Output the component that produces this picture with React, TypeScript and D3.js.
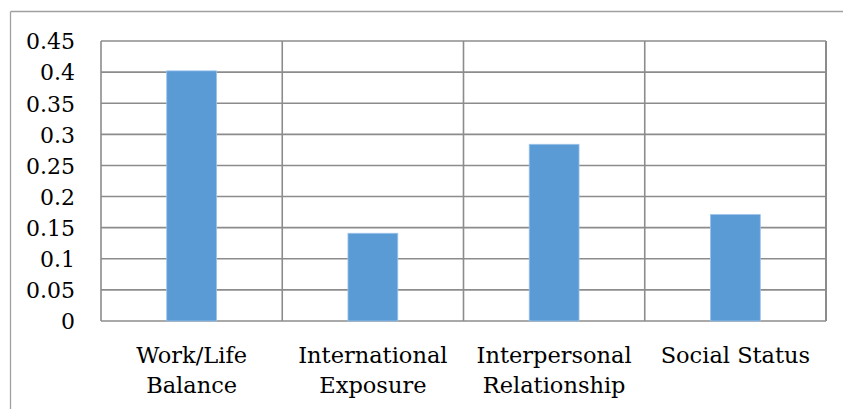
import React from "react";
import * as d3 from "d3";

const categories: string[][] = [
  ["Work/Life", "Balance"],
  ["International", "Exposure"],
  ["Interpersonal", "Relationship"],
  ["Social Status"],
];
const values: number[] = [0.402, 0.141, 0.284, 0.171];
const yTicks: number[] = [0, 0.05, 0.1, 0.15, 0.2, 0.25, 0.3, 0.35, 0.4, 0.45];
const yTickLabels: string[] = ["0", "0.05", "0.1", "0.15", "0.2", "0.25", "0.3", "0.35", "0.4", "0.45"];

const W = 843;
const H = 409;
const plot = { left: 101, right: 826, top: 41, bottom: 321 };
const FONT = "'DejaVu Serif', serif";
const GRID = "#8c8c8c";

export default function App() {
  const keys = categories.map((c) => c.join(" "));
  const x = d3.scaleBand<string>().domain(keys).range([plot.left, plot.right]).padding(0);
  const y = d3.scaleLinear().domain([0, 0.45]).range([plot.bottom, plot.top]);
  const barW = x.bandwidth() * 0.275;

  return (
    <svg
      width={W}
      height={H}
      viewBox={`0 0 ${W} ${H}`}
      style={{ position: "absolute", left: 0, top: 0, background: "#fff" }}
    >
      {/* chart frame */}
      <line x1={10.5} y1={11.5} x2={W} y2={11.5} stroke="#a0a0a0" strokeWidth={1.3} />
      <line x1={10.5} y1={11.5} x2={10.5} y2={H} stroke="#a0a0a0" strokeWidth={1.3} />

      {/* horizontal grid */}
      {yTicks.map((t) => (
        <line
          key={`h${t}`}
          x1={plot.left}
          x2={plot.right}
          y1={y(t)}
          y2={y(t)}
          stroke={GRID}
          strokeWidth={1.6}
        />
      ))}
      {/* vertical grid at category boundaries */}
      {keys.map((k) => (
        <line
          key={`v${k}`}
          x1={x(k)!}
          x2={x(k)!}
          y1={plot.top}
          y2={plot.bottom}
          stroke={GRID}
          strokeWidth={1.6}
        />
      ))}
      <line x1={plot.right} x2={plot.right} y1={plot.top} y2={plot.bottom} stroke={GRID} strokeWidth={2} />

      {/* bars */}
      {values.map((v, i) => {
        const cx = x(keys[i])! + x.bandwidth() / 2;
        return (
          <rect
            key={`b${i}`}
            x={cx - barW / 2}
            y={y(v)}
            width={barW}
            height={plot.bottom - y(v)}
            fill="#5b9bd5"
            stroke="#9cc3ea"
            strokeWidth={0.8}
          />
        );
      })}

      {/* y tick labels */}
      {yTicks.map((t, i) => (
        <text
          key={`yt${t}`}
          x={75}
          y={y(t)}
          dy="0.38em"
          textAnchor="end"
          fontFamily={FONT}
          fontSize={22}
          fill="#000"
        >
          {yTickLabels[i]}
        </text>
      ))}

      {/* category labels */}
      {categories.map((lines, i) => {
        const cx = x(keys[i])! + x.bandwidth() / 2;
        return (
          <text key={`c${i}`} textAnchor="middle" fontFamily={FONT} fontSize={22.5} fill="#000">
            {lines.map((ln, j) => (
              <tspan key={j} x={cx} y={363 + j * 30}>
                {ln}
              </tspan>
            ))}
          </text>
        );
      })}
    </svg>
  );
}
